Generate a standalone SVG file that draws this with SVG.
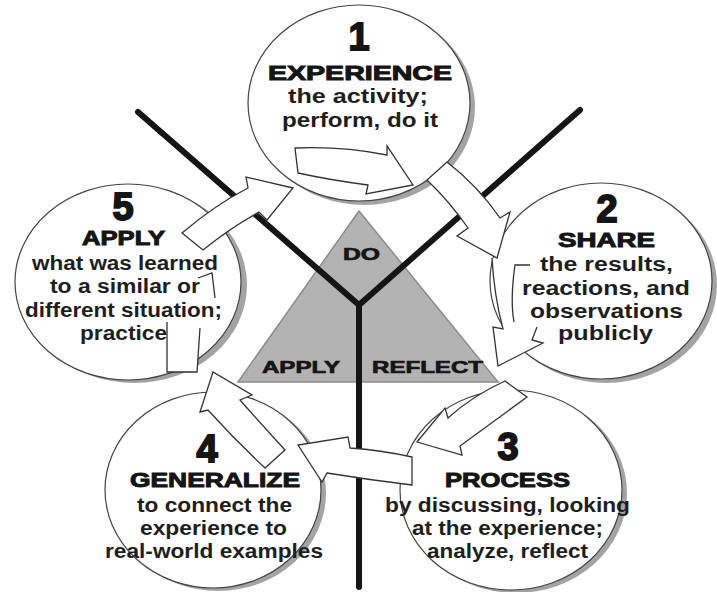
<svg xmlns="http://www.w3.org/2000/svg" width="717" height="592" viewBox="0 0 717 592">
<style>
.bg{fill:#ffffff}
.yline{stroke:#151515;stroke-width:6;stroke-linecap:round;fill:none}
.tri{fill:#b3b3b3;stroke:#8c8c8c;stroke-width:1.5}
.shadow{fill:#a3a3a3}
.disc{fill:#ffffff;stroke:#444;stroke-width:1.2}
.arrow{fill:#ffffff;stroke:#333;stroke-width:1.3;stroke-linejoin:miter}
.afill{fill:#ffffff;stroke:none}
.aline{fill:none;stroke:#333;stroke-width:1.3}
.num{font-family:"Liberation Sans",Arial,sans-serif;font-weight:bold;font-size:38px;fill:#151515;stroke:#151515;stroke-width:1.8}
.title{font-family:"Liberation Sans",Arial,sans-serif;font-weight:bold;font-size:21px;fill:#151515;stroke:#151515;stroke-width:1}
.body{font-family:"Liberation Sans",Arial,sans-serif;font-weight:bold;font-size:20px;fill:#1e1e1e}
.tlab{font-family:"Liberation Sans",Arial,sans-serif;font-weight:bold;font-size:17px;fill:#151515;stroke:#151515;stroke-width:0.7}
</style>
<rect class="bg" x="0" y="0" width="717" height="592"/>

<g id="triangle">
  <polygon class="tri" points="359,211 238,382 498,382"/>
</g>

<g id="y-lines">
  <line class="yline" x1="138" y1="112" x2="359" y2="305"/>
  <line class="yline" x1="580" y1="110" x2="359" y2="305"/>
  <line class="yline" x1="359" y1="305" x2="359" y2="587"/>
</g>

<g id="triangle-labels">
  <text class="tlab" x="343" y="260" textLength="37" lengthAdjust="spacingAndGlyphs">DO</text>
  <text class="tlab" x="262" y="373" textLength="78" lengthAdjust="spacingAndGlyphs">APPLY</text>
  <text class="tlab" x="372" y="373" textLength="111" lengthAdjust="spacingAndGlyphs">REFLECT</text>
</g>

<g id="step1">
  <ellipse class="shadow" cx="364" cy="107" rx="111" ry="98"/>
  <ellipse class="disc" cx="359" cy="103" rx="111" ry="98"/>
</g>
<g id="step2">
  <ellipse class="shadow" cx="606" cy="285" rx="111" ry="98"/>
  <ellipse class="disc" cx="601" cy="281" rx="111" ry="98"/>
</g>
<g id="step3">
  <ellipse class="shadow" cx="516" cy="493" rx="111" ry="100"/>
  <ellipse class="disc" cx="511" cy="490" rx="111" ry="100"/>
</g>
<g id="step4">
  <ellipse class="shadow" cx="218" cy="493" rx="108" ry="98"/>
  <ellipse class="disc" cx="213" cy="490" rx="108" ry="98"/>
</g>
<g id="step5">
  <ellipse class="shadow" cx="134" cy="285" rx="113" ry="98"/>
  <ellipse class="disc" cx="128" cy="282" rx="113" ry="98"/>
</g>

<g id="connectors">
  <path class="arrow" d="M295,148 Q342,146 387,155 L387,146 L413,185 L366,194 L368,185 Q330,180 298,173 Z"/>
  <path class="arrow" d="M447,162 Q478,186 500,218 L510,212 L497,258 L457,236 L468,228 Q450,202 427,180 Z"/>
  <path class="afill" d="M492,258 L530,265 L515,265 Q510,300 514,322 L537,327 L532,340 L543,343 L498,366 L493,327 L503,329 Q494,295 492,258 Z"/>
  <path class="aline" d="M530,265 L515,265 Q510,300 514,322"/>
  <path class="aline" d="M537,327 L532,340 L543,343 L498,366 L493,327 L503,329 Q494,295 492,258"/>
  <path class="arrow" d="M505,381 Q472,396 448,418 L445,408 L417,442 L462,455 L460,446 Q490,424 527,397 Z"/>
  <path class="arrow" d="M412,457 Q380,450 350,448 L348,437 L298,445 L322,482 L327,473 Q370,480 412,485 Z"/>
  <path class="arrow" d="M265,468 Q235,440 208,410 L200,412 L213,372 L252,395 L240,400 Q262,425 285,450 Z"/>
  <path class="afill" d="M167,322 L200,322 L197,372 L167,372 Z"/>
  <path class="aline" d="M167,322 L167,372 L197,372 L200,328"/>
  <path class="aline" d="M198,278 L212,273 L215,298"/>
  <path class="arrow" d="M182,233 Q215,205 248,188 L246,177 L293,188 L267,220 L259,212 Q230,228 203,250 Z"/>
</g>

<g id="step1-text">
  <text class="num" x="359" y="50" text-anchor="middle">1</text>
  <text class="title" x="268" y="80" textLength="184" lengthAdjust="spacingAndGlyphs">EXPERIENCE</text>
  <text class="body" x="288" y="103" textLength="140" lengthAdjust="spacingAndGlyphs">the activity;</text>
  <text class="body" x="282" y="127" textLength="156" lengthAdjust="spacingAndGlyphs">perform, do it</text>
</g>
<g id="step2-text">
  <text class="num" x="607" y="222" text-anchor="middle">2</text>
  <text class="title" x="558" y="247" textLength="97" lengthAdjust="spacingAndGlyphs">SHARE</text>
  <text class="body" x="540" y="271" textLength="133" lengthAdjust="spacingAndGlyphs">the results,</text>
  <text class="body" x="522" y="295" textLength="168" lengthAdjust="spacingAndGlyphs">reactions, and</text>
  <text class="body" x="530" y="318" textLength="153" lengthAdjust="spacingAndGlyphs">observations</text>
  <text class="body" x="558" y="340" textLength="95" lengthAdjust="spacingAndGlyphs">publicly</text>
</g>
<g id="step3-text">
  <text class="num" x="508" y="460" text-anchor="middle">3</text>
  <text class="title" x="445" y="487" textLength="125" lengthAdjust="spacingAndGlyphs">PROCESS</text>
  <text class="body" x="385" y="512" textLength="245" lengthAdjust="spacingAndGlyphs">by discussing, looking</text>
  <text class="body" x="412" y="535" textLength="191" lengthAdjust="spacingAndGlyphs">at the experience;</text>
  <text class="body" x="427" y="558" textLength="161" lengthAdjust="spacingAndGlyphs">analyze, reflect</text>
</g>
<g id="step4-text">
  <text class="num" x="207" y="462" text-anchor="middle">4</text>
  <text class="title" x="130" y="487" textLength="170" lengthAdjust="spacingAndGlyphs">GENERALIZE</text>
  <text class="body" x="137" y="512" textLength="155" lengthAdjust="spacingAndGlyphs">to connect the</text>
  <text class="body" x="140" y="535" textLength="147" lengthAdjust="spacingAndGlyphs">experience to</text>
  <text class="body" x="105" y="558" textLength="218" lengthAdjust="spacingAndGlyphs">real-world examples</text>
</g>
<g id="step5-text">
  <text class="num" x="123" y="220" text-anchor="middle">5</text>
  <text class="title" x="82" y="245" textLength="83" lengthAdjust="spacingAndGlyphs">APPLY</text>
  <text class="body" x="32" y="270" textLength="186" lengthAdjust="spacingAndGlyphs">what was learned</text>
  <text class="body" x="50" y="293" textLength="150" lengthAdjust="spacingAndGlyphs">to a similar or</text>
  <text class="body" x="25" y="317" textLength="197" lengthAdjust="spacingAndGlyphs">different situation;</text>
  <text class="body" x="80" y="340" textLength="87" lengthAdjust="spacingAndGlyphs">practice</text>
</g>
</svg>
